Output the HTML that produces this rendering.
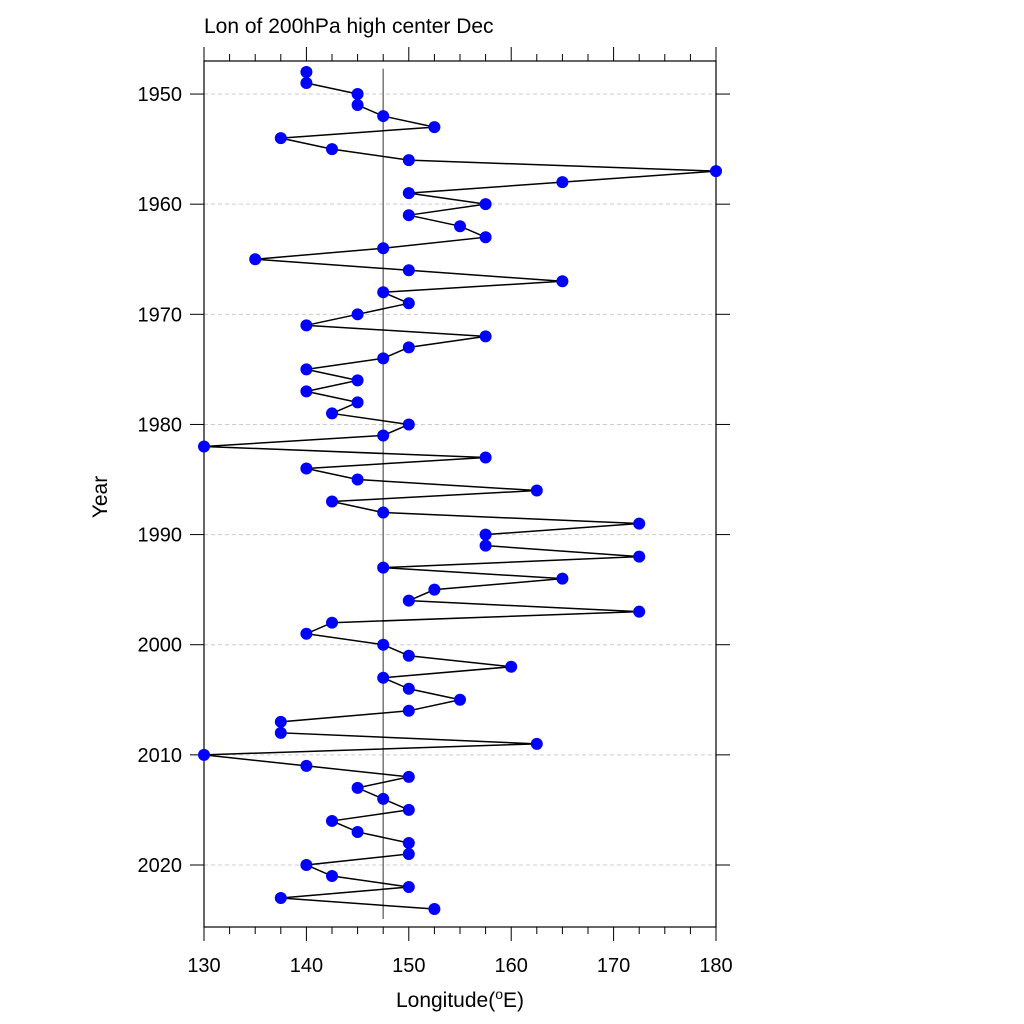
<!DOCTYPE html>
<html><head><meta charset="utf-8"><style>
html,body{margin:0;padding:0;background:#fff;}
svg{display:block;font-family:"Liberation Sans",Arial,sans-serif;}
</style></head><body>
<svg id="chart" width="1024" height="1024" viewBox="0 0 1024 1024">
<text x="204" y="33" font-size="21" fill="#000">Lon of 200hPa high center Dec</text>
<g id="grid"></g>
<g id="axes"></g>
<g id="marks"></g>
<text x="460" y="1007" font-size="21" text-anchor="middle">Longitude(<tspan dy="-8" font-size="14">o</tspan><tspan dy="8">E)</tspan></text>
<text transform="translate(107,497) rotate(-90)" font-size="21" text-anchor="middle">Year</text>
</svg>
<script>
const years=[];for(let y=1948;y<=2024;y++)years.push(y);
const lons=[140,140,145,145,147.5,152.5,137.5,142.5,150,180,165,150,157.5,150,155,157.5,147.5,135,150,165,147.5,150,145,140,157.5,150,147.5,140,145,140,145,142.5,150,147.5,130,157.5,140,145,162.5,142.5,147.5,172.5,157.5,157.5,172.5,147.5,165,152.5,150,172.5,142.5,140,147.5,150,160,147.5,150,155,150,137.5,137.5,162.5,130,140,150,145,147.5,150,142.5,145,150,150,140,142.5,150,137.5,152.5];
const meanLon=147.5;
const xTicks=[130,140,150,160,170,180];
const yTicks=[1950,1960,1970,1980,1990,2000,2010,2020];
const L=204,R=716,T=61,B=927;
const X0=130,X1=180,Y0=1947,Y1=2025.63;
const sx=v=>L+(v-X0)/(X1-X0)*(R-L);
const sy=v=>T+(v-Y0)/(Y1-Y0)*(B-T);
const NS='http://www.w3.org/2000/svg';
function mk(tag,attrs,parent){const e=document.createElementNS(NS,tag);for(const k in attrs)e.setAttribute(k,attrs[k]);parent.appendChild(e);return e;}
const grid=document.getElementById('grid'),axes=document.getElementById('axes'),marks=document.getElementById('marks');
yTicks.forEach(t=>{
 const g=mk('line',{x1:L,x2:R,y1:sy(t),y2:sy(t),stroke:'#ccc','stroke-width':1,'stroke-dasharray':'4,3'},grid);
 
 
 mk('line',{x1:L-14,x2:L,y1:sy(t),y2:sy(t),stroke:'#000'},axes);
 mk('line',{x1:R,x2:R+14,y1:sy(t),y2:sy(t),stroke:'#000'},axes);
 const lb=mk('text',{x:L-22,y:sy(t)+7,'font-size':20,'text-anchor':'end'},axes);lb.textContent=t;
 
 
});
for(let v=X0;v<=X1+0.01;v+=2.5){
 const major=(v%10===0);const len=major?14:7;
 mk('line',{x1:sx(v),x2:sx(v),y1:B,y2:B+len,stroke:'#000'},axes);
 mk('line',{x1:sx(v),x2:sx(v),y1:T-len,y2:T,stroke:'#000'},axes);
}
xTicks.forEach(t=>{
 const lb=mk('text',{x:sx(t),y:972,'font-size':20,'text-anchor':'middle'},axes);lb.textContent=t;
 
 
});
const fr=mk('rect',{x:L,y:T,width:R-L,height:B-T,fill:'none',stroke:'#000','stroke-width':1.2},axes);


const ml=mk('line',{x1:sx(meanLon),x2:sx(meanLon),y1:sy(1947.7),y2:sy(2024.9),stroke:'#777','stroke-width':1.5},marks);


const pl=mk('polyline',{points:years.map((y,i)=>sx(lons[i])+','+sy(y)).join(' '),fill:'none',stroke:'#000','stroke-width':1.5},marks);


years.forEach((y,i)=>{
 const c=mk('circle',{cx:sx(lons[i]),cy:sy(y),r:6,fill:'#0000ff'},marks);
 
 
});
</script>
</body></html>
